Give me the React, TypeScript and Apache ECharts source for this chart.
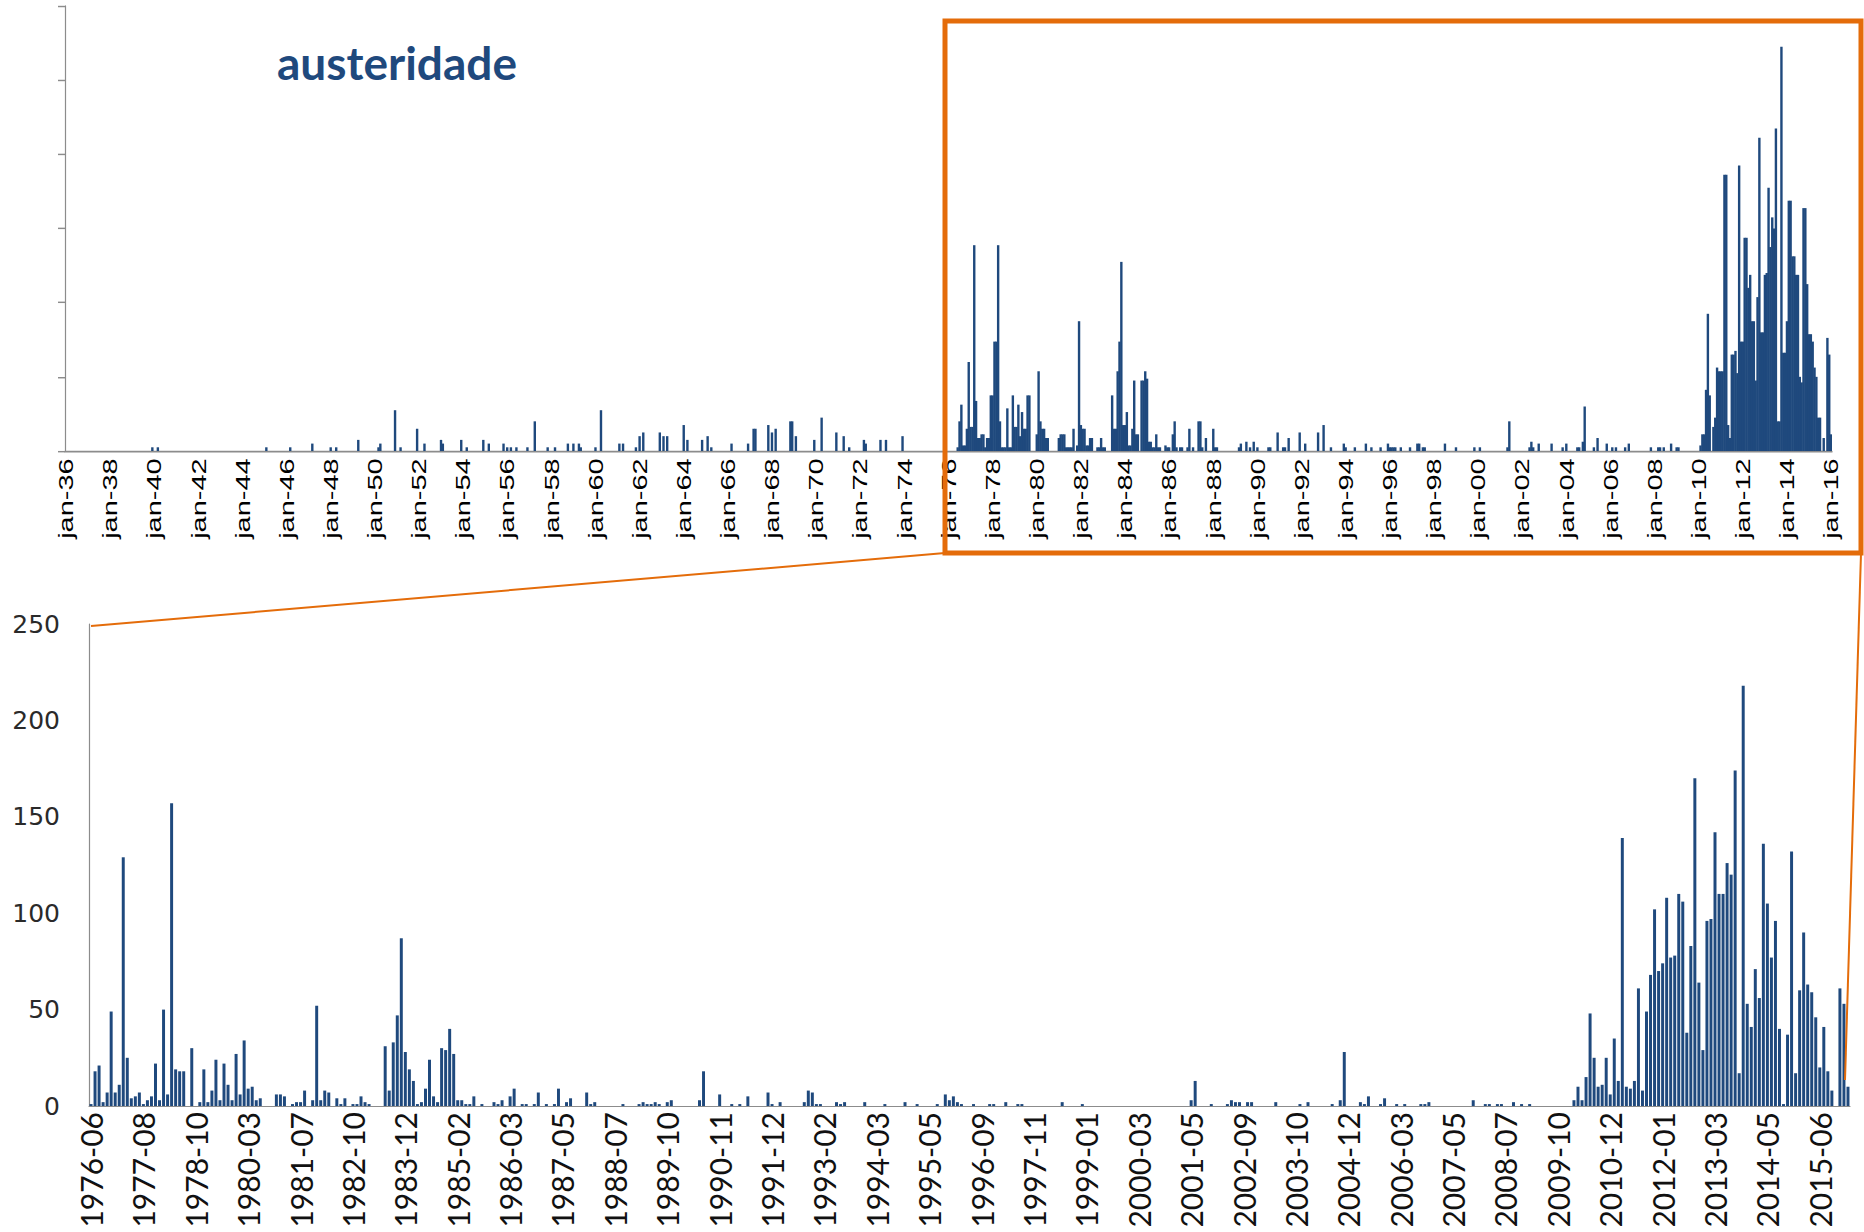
import React, { useEffect, useRef } from "react";
import * as echarts from "echarts";

// ---------- TOP CHART DATA (monthly, jan-1936 .. jan-2016) ----------
const MONTHS_PT = ["jan", "fev", "mar", "abr", "mai", "jun", "jul", "ago", "set", "out", "nov", "dez"];
const TOP_FIRST_YEAR = 1936;
const TOP_LAST_MONTH = "2016-01";

// isolated monthly values
const topSparse: [string, number][] = [
  ["1939-12", 2], ["1940-03", 2], ["1945-02", 2], ["1946-03", 2], ["1947-03", 4],
  ["1948-01", 2], ["1948-04", 2], ["1949-04", 6], ["1950-03", 2], ["1950-04", 4],
  ["1950-12", 22], ["1951-03", 2], ["1951-12", 12], ["1952-04", 4], ["1953-01", 6],
  ["1953-02", 4], ["1953-12", 6], ["1954-03", 2], ["1954-12", 6], ["1955-03", 4],
  ["1955-11", 4], ["1956-01", 2], ["1956-03", 2], ["1956-06", 2], ["1956-12", 2],
  ["1957-04", 16], ["1957-11", 2], ["1958-03", 2], ["1958-10", 4], ["1959-01", 4],
  ["1959-04", 4], ["1959-05", 2], ["1960-01", 2], ["1960-04", 22], ["1961-02", 4],
  ["1961-04", 4], ["1961-11", 2], ["1962-01", 8], ["1962-03", 10], ["1962-12", 10],
  ["1963-02", 8], ["1963-04", 8], ["1964-01", 14], ["1964-03", 6], ["1964-11", 6],
  ["1965-02", 8], ["1965-04", 2], ["1966-03", 4], ["1966-12", 4], ["1967-03", 12],
  ["1967-04", 12], ["1967-11", 14], ["1968-01", 10], ["1968-03", 12], ["1968-11", 16],
  ["1968-12", 16], ["1969-02", 8], ["1969-12", 6], ["1970-04", 18], ["1970-12", 10],
  ["1971-04", 8], ["1971-07", 2], ["1972-03", 6], ["1972-04", 4], ["1972-12", 6],
  ["1973-03", 6], ["1973-12", 8],
  ["1976-06", 2], ["1976-07", 16], ["1976-08", 25], ["1976-09", 3], ["1976-10", 3],
  ["1976-11", 12], ["1976-12", 48], ["1977-01", 13], ["1977-02", 13], ["1977-03", 111],
  ["1977-04", 27], ["1977-05", 7], ["1977-06", 7], ["1977-07", 9], ["1977-08", 9],
  ["1977-09", 2], ["1977-10", 7], ["1977-11", 7], ["1977-12", 30], ["1978-01", 30],
  ["1978-02", 59], ["1978-03", 59], ["1978-04", 111], ["1978-05", 16], ["1978-06", 2],
  ["1978-07", 2], ["1978-08", 2], ["1978-09", 23], ["1978-10", 2], ["1978-11", 2],
  ["1978-12", 30], ["1979-01", 13], ["1979-02", 13], ["1979-03", 25], ["1979-04", 8],
  ["1979-05", 21], ["1979-06", 12], ["1979-07", 12], ["1979-08", 30], ["1979-09", 30],
  ["1980-01", 9], ["1980-02", 43], ["1980-03", 16], ["1980-04", 12], ["1980-05", 12],
  ["1980-06", 7], ["1980-07", 7], ["1981-01", 7], ["1981-02", 9], ["1981-03", 9],
  ["1981-04", 9], ["1981-05", 2], ["1981-06", 2], ["1981-07", 2], ["1981-08", 2],
  ["1981-09", 12], ["1981-11", 3], ["1981-12", 70], ["1982-01", 14], ["1982-02", 12],
  ["1982-03", 12], ["1982-04", 3], ["1982-05", 3], ["1982-06", 7], ["1982-07", 7],
  ["1982-10", 2], ["1982-11", 2], ["1982-12", 7], ["1983-01", 2], ["1983-02", 2],
  ["1983-06", 30], ["1983-07", 12], ["1983-08", 12], ["1983-09", 43], ["1983-10", 59],
  ["1983-11", 102], ["1983-12", 14], ["1984-01", 14], ["1984-02", 21], ["1984-03", 3],
  ["1984-04", 3], ["1984-05", 12], ["1984-06", 38], ["1984-07", 9], ["1984-08", 9],
  ["1984-10", 38], ["1984-11", 38], ["1984-12", 43], ["1985-01", 39], ["1985-02", 5],
  ["1985-03", 5], ["1985-04", 2], ["1985-05", 2], ["1985-06", 9], ["1985-07", 2],
  ["1985-08", 2], ["1985-11", 3], ["1985-12", 2], ["1986-01", 2], ["1986-03", 9],
  ["1986-04", 16], ["1986-05", 2], ["1986-07", 2], ["1986-08", 2], ["1986-11", 2],
  ["1986-12", 12], ["1987-02", 2], ["1987-05", 16], ["1987-06", 16], ["1987-07", 2],
  ["1987-09", 7], ["1988-01", 12], ["1988-02", 2], ["1988-03", 2], ["1989-03", 2],
  ["1989-04", 4], ["1989-07", 5], ["1989-09", 2], ["1989-11", 5], ["1990-01", 2],
  ["1990-07", 2], ["1990-08", 2], ["1990-12", 10], ["1991-03", 2], ["1991-04", 2],
  ["1991-06", 7], ["1991-12", 10], ["1992-03", 4], ["1992-10", 10], ["1993-01", 14],
  ["1993-05", 2], ["1993-12", 4], ["1994-01", 2], ["1994-06", 2], ["1994-12", 4],
  ["1995-03", 2], ["1995-08", 2], ["1995-12", 4], ["1996-01", 2], ["1996-02", 2],
  ["1996-03", 2], ["1996-04", 2], ["1996-07", 2], ["1996-12", 2], ["1997-04", 4],
  ["1997-05", 4], ["1997-07", 2], ["1997-08", 2], ["1998-07", 4], ["1999-01", 2],
  ["1999-11", 2], ["2000-02", 2], ["2001-05", 2], ["2001-06", 16], ["2002-05", 2],
  ["2002-06", 5], ["2002-07", 2], ["2002-10", 4], ["2003-05", 4], ["2003-11", 2],
  ["2004-01", 4], ["2004-07", 2], ["2004-08", 2], ["2004-10", 5], ["2004-11", 24],
  ["2005-04", 2], ["2005-06", 7], ["2005-11", 4], ["2006-02", 2], ["2006-04", 2],
  ["2006-09", 2], ["2006-11", 4], ["2007-11", 2], ["2008-03", 2], ["2008-04", 2],
  ["2008-06", 2], ["2008-10", 4], ["2009-01", 2], ["2009-02", 2],
];

// consecutive months from jan-2010 to jan-2016
const topDenseStart = "2010-01";
const topDense: number[] = [
  0, 3, 9, 9, 33, 74, 30, 0, 13, 18,
  45, 43, 43, 43, 149, 149, 14, 7, 52, 52,
  54, 42, 154, 59, 59, 115, 115, 88, 95, 70,
  70, 38, 83, 169, 64, 64, 95, 96, 142, 110,
  126, 120, 174, 16, 16, 218, 53, 53, 70, 135,
  135, 105, 105, 95, 95, 40, 37, 131, 131, 90,
  63, 63, 59, 45, 40, 18, 18, 0, 7, 0,
  61, 52, 9,
];

// ---------- BOTTOM CHART DATA (category axis, 437 categories) ----------
const bottomTickLabels: string[] = [
  "1976-06", "1977-08", "1978-10", "1980-03", "1981-07", "1982-10", "1983-12",
  "1985-02", "1986-03", "1987-05", "1988-07", "1989-10", "1990-11", "1991-12",
  "1993-02", "1994-03", "1995-05", "1996-09", "1997-11", "1999-01", "2000-03",
  "2001-05", "2002-09", "2003-10", "2004-12", "2006-03", "2007-05", "2008-07",
  "2009-10", "2010-12", "2012-01", "2013-03", "2014-05", "2015-06",
];
const bottomCategoryCount = 437;
const bottomLabelEvery = 13;
const bottomTickEvery = 24;

// [category index, value]
const bottomSparse: [number, number][] = [
  [0, 1], [1, 18], [2, 21], [3, 2], [4, 7], [5, 49], [6, 7], [7, 11], [8, 129], [9, 25],
  [10, 4], [11, 5], [12, 7], [13, 1], [14, 3], [15, 5], [16, 22], [17, 3], [18, 50], [19, 6],
  [20, 157], [21, 19], [22, 18], [23, 18], [25, 30], [27, 2], [28, 19], [29, 2], [30, 8],
  [31, 24], [32, 3], [33, 22], [34, 11], [35, 3], [36, 27], [37, 6], [38, 34], [39, 9],
  [40, 10], [41, 3], [42, 4], [46, 6], [47, 6], [48, 5], [50, 1], [51, 2], [52, 2], [53, 8],
  [55, 3], [56, 52], [57, 3], [58, 8], [59, 7], [61, 4], [62, 1], [63, 4], [65, 1], [66, 1],
  [67, 5], [68, 2], [69, 1], [73, 31], [74, 8], [75, 33], [76, 47], [77, 87], [78, 28],
  [79, 19], [80, 13], [81, 1], [82, 2], [83, 9], [84, 24], [85, 5], [86, 2], [87, 30],
  [88, 29], [89, 40], [90, 27], [91, 3], [92, 3], [93, 1], [94, 1], [95, 5], [97, 1],
  [100, 2], [101, 1], [102, 3], [104, 5], [105, 9], [107, 1], [108, 1], [110, 1], [111, 7],
  [113, 1], [115, 1], [116, 9], [118, 2], [119, 4], [123, 7], [124, 1], [125, 2], [132, 1],
  [136, 1], [137, 2], [138, 1], [139, 1], [140, 2], [141, 1], [143, 2], [144, 3], [151, 3],
  [152, 18], [156, 6], [159, 1], [161, 1], [163, 5], [168, 7], [169, 1], [171, 2], [177, 2],
  [178, 8], [179, 7], [180, 1], [181, 1], [185, 2], [186, 1], [187, 2], [192, 2], [197, 1],
  [202, 2], [205, 1], [210, 1], [212, 6], [213, 3], [214, 5], [215, 2], [216, 1], [219, 1],
  [223, 1], [224, 1], [227, 2], [230, 1], [231, 1], [241, 2], [246, 1], [273, 3], [274, 13],
  [278, 1], [282, 1], [283, 3], [284, 2], [285, 2], [287, 2], [288, 2], [294, 2], [300, 1],
  [302, 2], [308, 1], [310, 3], [311, 28], [315, 2], [316, 1], [317, 5], [320, 1], [321, 4],
  [324, 1], [326, 1], [330, 1], [331, 1], [332, 2], [343, 3], [346, 1], [347, 1], [349, 1],
  [350, 1], [353, 2], [355, 1], [357, 1],
];
const bottomDenseStart = 368;
const bottomDense: number[] = [
  3, 10, 3, 15, 48, 25, 10, 11, 25, 6,
  35, 13, 139, 10, 9, 13, 61, 8, 49, 68,
  102, 70, 74, 108, 77, 78, 110, 106, 38, 83,
  170, 64, 29, 96, 97, 142, 110, 110, 126, 120,
  174, 17, 218, 53, 41, 71, 56, 136, 105, 77,
  96, 40, 1, 37, 132, 17, 60, 90, 63, 59,
  46, 20, 41, 18, 8, 0, 61, 53, 10,
];

const TITLE = "austeridade";
const BAR_COLOR = "#1F497D";
const ORANGE = "#E46C0A";
const AXIS_GRAY = "#8c8c8c";
const TOP_STRETCH = 1.45;

function buildTop() {
  const cats: string[] = [];
  let y = TOP_FIRST_YEAR;
  let m = 1;
  while (true) {
    const key = `${y}-${String(m).padStart(2, "0")}`;
    cats.push(key);
    if (key === TOP_LAST_MONTH) break;
    m++;
    if (m > 12) { m = 1; y++; }
  }
  const index = new Map(cats.map((c, i) => [c, i]));
  const values = cats.map(() => 0);
  topSparse.forEach(([k, v]) => {
    const i = index.get(k);
    if (i !== undefined) values[i] = v;
  });
  const s = index.get(topDenseStart)!;
  topDense.forEach((v, j) => { if (s + j < values.length) values[s + j] = v; });
  return { cats, values };
}

function buildBottom() {
  const cats: string[] = [];
  for (let i = 0; i < bottomCategoryCount; i++) {
    cats.push(i % bottomLabelEvery === 0 ? bottomTickLabels[i / bottomLabelEvery] : `c${i}`);
  }
  const values = cats.map(() => 0);
  bottomSparse.forEach(([i, v]) => { values[i] = v; });
  bottomDense.forEach((v, j) => { values[bottomDenseStart + j] = v; });
  return { cats, values };
}

export default function App() {
  const topRef = useRef<HTMLDivElement>(null);
  const botRef = useRef<HTMLDivElement>(null);

  useEffect(() => {
    const top = echarts.init(topRef.current!, undefined, { renderer: "svg" });
    const bot = echarts.init(botRef.current!, undefined, { renderer: "svg" });
    const t = buildTop();
    const b = buildBottom();

    top.setOption({
      animation: false,
      grid: { left: 65, top: 6 / TOP_STRETCH, width: 1767, height: 445 / TOP_STRETCH },
      xAxis: {
        type: "category",
        data: t.cats,
        axisLine: { lineStyle: { color: AXIS_GRAY, width: 1.2 } },
        axisTick: { interval: 23, alignWithLabel: true, length: 5.5, lineStyle: { color: AXIS_GRAY } },
        axisLabel: {
          interval: 23,
          rotate: 90,
          margin: 5,
          fontSize: 20,
          fontFamily: "Liberation Sans, Arial, sans-serif",
          color: "#000",
          formatter: (v: string) => {
            const [yy, mm] = v.split("-");
            return `${MONTHS_PT[Number(mm) - 1]}-${yy.slice(2)}`;
          },
        },
      },
      yAxis: {
        type: "value",
        min: 0,
        max: 240,
        interval: 40,
        axisLine: { show: true, lineStyle: { color: AXIS_GRAY, width: 1.2 } },
        axisTick: { show: true, length: 7, lineStyle: { color: AXIS_GRAY } },
        axisLabel: { show: false },
        splitLine: { show: false },
      },
      series: [
        {
          type: "bar",
          data: t.values,
          barWidth: 2.4,
          itemStyle: { color: BAR_COLOR },
        },
      ],
    });

    bot.setOption({
      animation: false,
      grid: { left: 89, top: 624, width: 1761, height: 482 },
      xAxis: {
        type: "category",
        data: b.cats,
        axisLine: { lineStyle: { color: AXIS_GRAY, width: 1.2 } },
        axisTick: { interval: bottomTickEvery - 1, length: 10, lineStyle: { color: AXIS_GRAY } },
        axisLabel: {
          interval: bottomLabelEvery - 1,
          rotate: 90,
          margin: 6,
          fontSize: 30,
          fontFamily: "Lato, sans-serif",
          color: "#111",
        },
      },
      yAxis: {
        type: "value",
        min: 0,
        max: 250,
        interval: 50,
        axisLine: { show: true, lineStyle: { color: AXIS_GRAY, width: 1.2 } },
        axisTick: { show: false },
        splitLine: { show: false },
        axisLabel: { margin: 29, fontSize: 25, fontFamily: "DejaVu Sans, sans-serif", color: "#2a2a2a" },
      },
      series: [
        {
          type: "bar",
          data: b.values,
          barCategoryGap: "26%",
          itemStyle: { color: BAR_COLOR },
        },
      ],
      graphic: [
        {
          type: "text",
          x: 277,
          y: 62,
          style: {
            text: TITLE,
            fontSize: 46,
            fontWeight: "bold",
            fontFamily: "Lato, sans-serif",
            fill: BAR_COLOR,
            align: "left",
            verticalAlign: "middle",
          },
        },
        {
          type: "rect",
          z: 100,
          shape: { x: 945, y: 21, width: 916, height: 532 },
          style: { fill: "transparent", stroke: ORANGE, lineWidth: 5 },
        },
        {
          type: "line",
          z: 100,
          shape: { x1: 945, y1: 553, x2: 91, y2: 626 },
          style: { stroke: ORANGE, lineWidth: 2 },
        },
        {
          type: "line",
          z: 100,
          shape: { x1: 1861, y1: 553, x2: 1845, y2: 1080 },
          style: { stroke: ORANGE, lineWidth: 2 },
        },
      ],
    });

    return () => {
      top.dispose();
      bot.dispose();
    };
  }, []);

  return (
    <div style={{ position: "fixed", left: 0, top: 0, width: 1864, height: 1232, background: "#fff" }}>
      <div
        ref={topRef}
        style={{
          position: "absolute",
          left: 0,
          top: 0,
          width: 1864,
          height: 560 / TOP_STRETCH,
          transform: `scaleY(${TOP_STRETCH})`,
          transformOrigin: "0 0",
        }}
      />
      <div
        ref={botRef}
        style={{ position: "absolute", left: 0, top: 0, width: 1864, height: 1232, zIndex: 1, pointerEvents: "none" }}
      />
    </div>
  );
}
